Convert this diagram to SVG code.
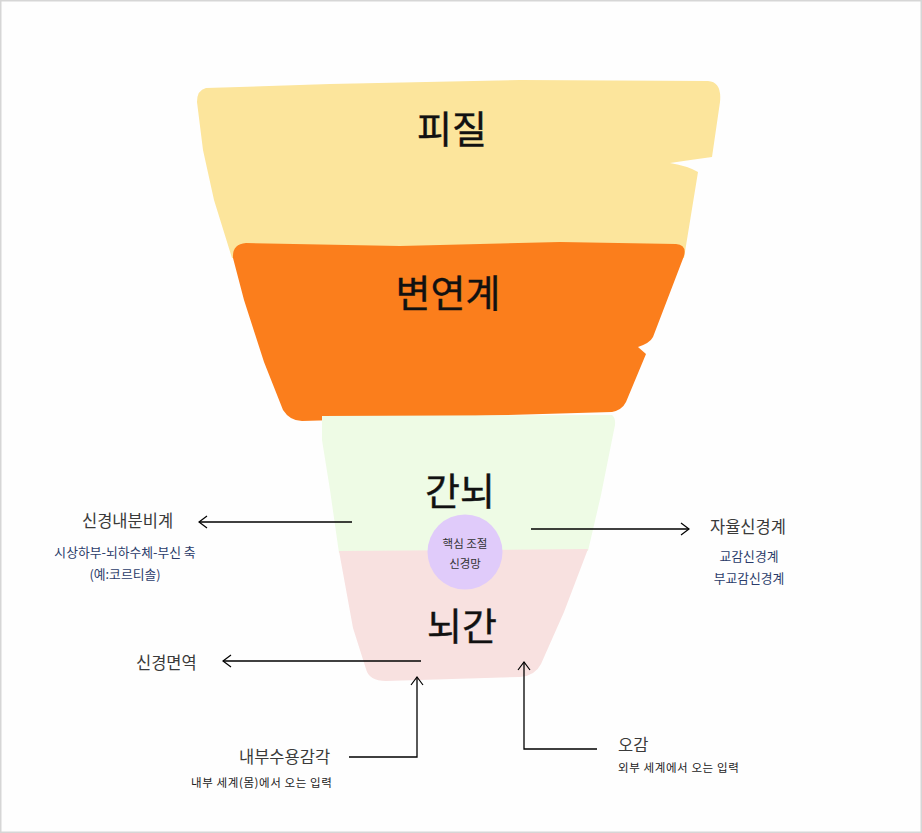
<svg xmlns="http://www.w3.org/2000/svg" width="922" height="833" viewBox="0 0 922 833">
<style>
  .big { font-family: "Noto Sans CJK KR", "Noto Sans", sans-serif; font-size: 38px; font-weight: 400; fill: #111; text-anchor: middle; stroke: #111; stroke-width: 0.4; }
  .lbl { font-family: "Noto Sans CJK KR", "Noto Sans", sans-serif; font-size: 16.5px; fill: #3a3a3a; }
  .sub { font-family: "Noto Sans CJK KR", "Noto Sans", sans-serif; font-size: 12.8px; fill: #2b3c6a; text-anchor: middle; }
  .note { font-family: "Noto Sans CJK KR", "Noto Sans", sans-serif; font-size: 11.5px; letter-spacing: 0.6px; fill: #222; }
  .small { font-family: "Noto Sans CJK KR", "Noto Sans", sans-serif; font-size: 11.5px; fill: #333; text-anchor: middle; }
  .conn { fill: none; stroke: #000; stroke-width: 1.3; }
</style>
<defs>
  <marker id="arr" viewBox="0 0 10 14" refX="9" refY="7" markerWidth="10" markerHeight="14" markerUnits="userSpaceOnUse" orient="auto">
    <path d="M1,1 L9,7 L1,13" fill="none" stroke="#000" stroke-width="1.2"/>
  </marker>
</defs>
<rect x="0" y="0" width="922" height="833" fill="#fefefe"/>
<rect x="0.75" y="0.75" width="920.5" height="831.5" fill="none" stroke="#d6d6d6" stroke-width="1.5"/>

<g id="cortex">
  <path d="M206,88 Q197,90 197,102 L203,150 L214,200 L232,258 L684,258 L698,172 Q688,166 670,163 Q690,160 712,157 L720,102 Q722,82 708,81 L520,80 L330,84 Z" fill="#fce59c"/>
  <text class="big" x="452" y="143">피질</text>
</g>

<g id="limbic">
  <path d="M246,243 Q232,244 233,258 L244,300 L264,362 L283,410 Q290,421 302,421 L612,412 Q622,410 626,402 L646,354 L638,347 Q650,343 653,337 L684,256 Q687,245 676,244 L560,242 L400,246 Z" fill="#fb7e1c"/>
  <text class="big" x="448" y="307">변연계</text>
</g>

<g id="diencephalon">
  <path d="M322,416 L612,415 Q617,419 614,430 L601,495 L588,551 L339,553 L330,490 L322,440 Z" fill="#eefbe5"/>
  <text class="big" x="460" y="505">간뇌</text>
</g>

<g id="brainstem">
  <path d="M339,551 L588,549 L564,612 L541,664 Q535,676 520,677 L386,681 Q369,681 366,669 L353,628 Z" fill="#f8e1e0"/>
  <text class="big" x="462" y="640">뇌간</text>
</g>

<g id="core-network">
  <circle cx="465" cy="552" r="37.5" fill="#e0cbfa"/>
  <text class="small" x="465" y="548">핵심 조절</text>
  <text class="small" x="465" y="568">신경망</text>
</g>

<g id="neuroendocrine">
  <text class="lbl" x="82" y="527">신경내분비계</text>
  <text class="sub" x="125" y="557">시상하부-뇌하수체-부신 축</text>
  <text class="sub" x="125" y="579">(예:코르티솔)</text>
</g>

<g id="autonomic">
  <text class="lbl" x="710" y="533">자율신경계</text>
  <text class="sub" x="749" y="561">교감신경계</text>
  <text class="sub" x="749" y="583">부교감신경계</text>
</g>

<g id="neuroimmune">
  <text class="lbl" x="136" y="669">신경면역</text>
</g>

<g id="interoception">
  <text class="lbl" x="239" y="763">내부수용감각</text>
  <text class="note" x="191" y="787">내부 세계(몸)에서 오는 입력</text>
</g>

<g id="senses">
  <text class="lbl" x="618" y="751">오감</text>
  <text class="note" x="618" y="772">외부 세계에서 오는 입력</text>
</g>

<g id="connectors">
  <path class="conn" d="M352,522 L199,522" marker-end="url(#arr)"/>
  <path class="conn" d="M531,529 L689,529" marker-end="url(#arr)"/>
  <path class="conn" d="M421,661 L223,661" marker-end="url(#arr)"/>
  <path class="conn" d="M349,757 L417,757 L417,677" marker-end="url(#arr)"/>
  <path class="conn" d="M597,749 L524,749 L524,662" marker-end="url(#arr)"/>
</g>
</svg>
